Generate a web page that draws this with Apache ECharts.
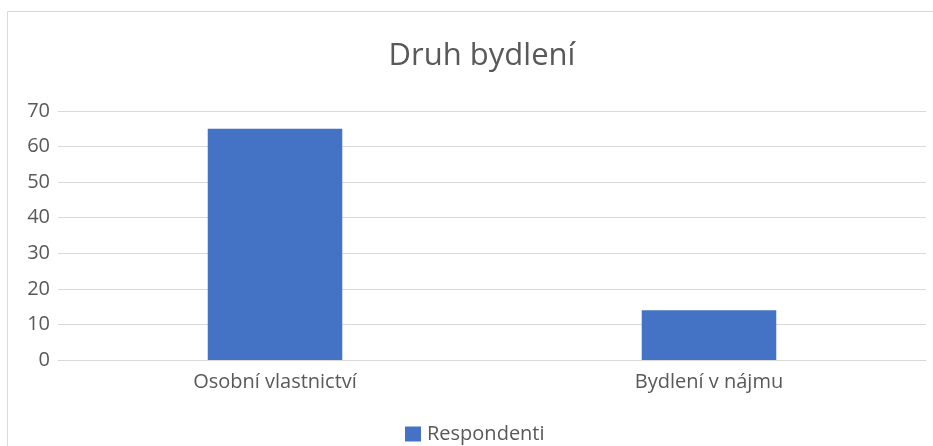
<!DOCTYPE html>
<html>
<head>
<meta charset="utf-8">
<script src="https://cdn.jsdelivr.net/npm/echarts@6/dist/echarts.min.js"></script>
<style>
  html, body { margin: 0; padding: 0; background: #fff; }
  #chart { width: 933px; height: 446px; }
</style>
</head>
<body>
<div id="chart"></div>
<script>
const categories = ['Osobní vlastnictví', 'Bydlení v nájmu'];
const respondenti = [65, 14];
const seriesName = 'Respondenti';
const titleText = 'Druh bydlení';

const textColor = '#595959';
const fontFamily = '"Open Sans", Lato, sans-serif';

const chart = echarts.init(document.getElementById('chart'));
chart.setOption({
  animation: false,
  backgroundColor: '#fff',
  color: ['#4472c4'],
  textStyle: { fontFamily: fontFamily },
  // chart frame, its right and bottom edges fall outside the picture
  graphic: [{
    type: 'rect',
    shape: { x: 7.5, y: 11.5, width: 1000, height: 1000 },
    style: { fill: 'none', stroke: '#d9d9d9', lineWidth: 1 },
    silent: true
  }],
  title: {
    text: titleText,
    left: 477,
    textAlign: 'center',
    top: 36,
    textStyle: { fontSize: 31, fontWeight: 'normal', color: textColor, fontFamily: fontFamily }
  },
  legend: {
    top: 419,
    left: 400,
    icon: 'rect',
    itemWidth: 16,
    itemHeight: 15,
    itemGap: 10,
    textStyle: { fontSize: 20, color: textColor, fontFamily: fontFamily, padding: [0, 0, 0, 1] },
    data: [seriesName]
  },
  grid: { left: 58, right: 7, top: 111, bottom: 86, containLabel: false },
  xAxis: {
    type: 'category',
    data: categories,
    axisLine: { lineStyle: { color: '#d9d9d9' } },
    axisTick: { show: false },
    axisLabel: { fontSize: 20, color: textColor, margin: 12, fontFamily: fontFamily }
  },
  yAxis: {
    type: 'value',
    min: 0,
    max: 70,
    interval: 10,
    axisLine: { show: false },
    axisTick: { show: false },
    splitLine: { lineStyle: { color: '#d9d9d9', width: 1 } },
    axisLabel: { fontSize: 20, color: textColor, margin: 8, fontFamily: fontFamily }
  },
  series: [{
    name: seriesName,
    type: 'bar',
    data: respondenti,
    barWidth: '31%'
  }]
});
</script>
</body>
</html>
